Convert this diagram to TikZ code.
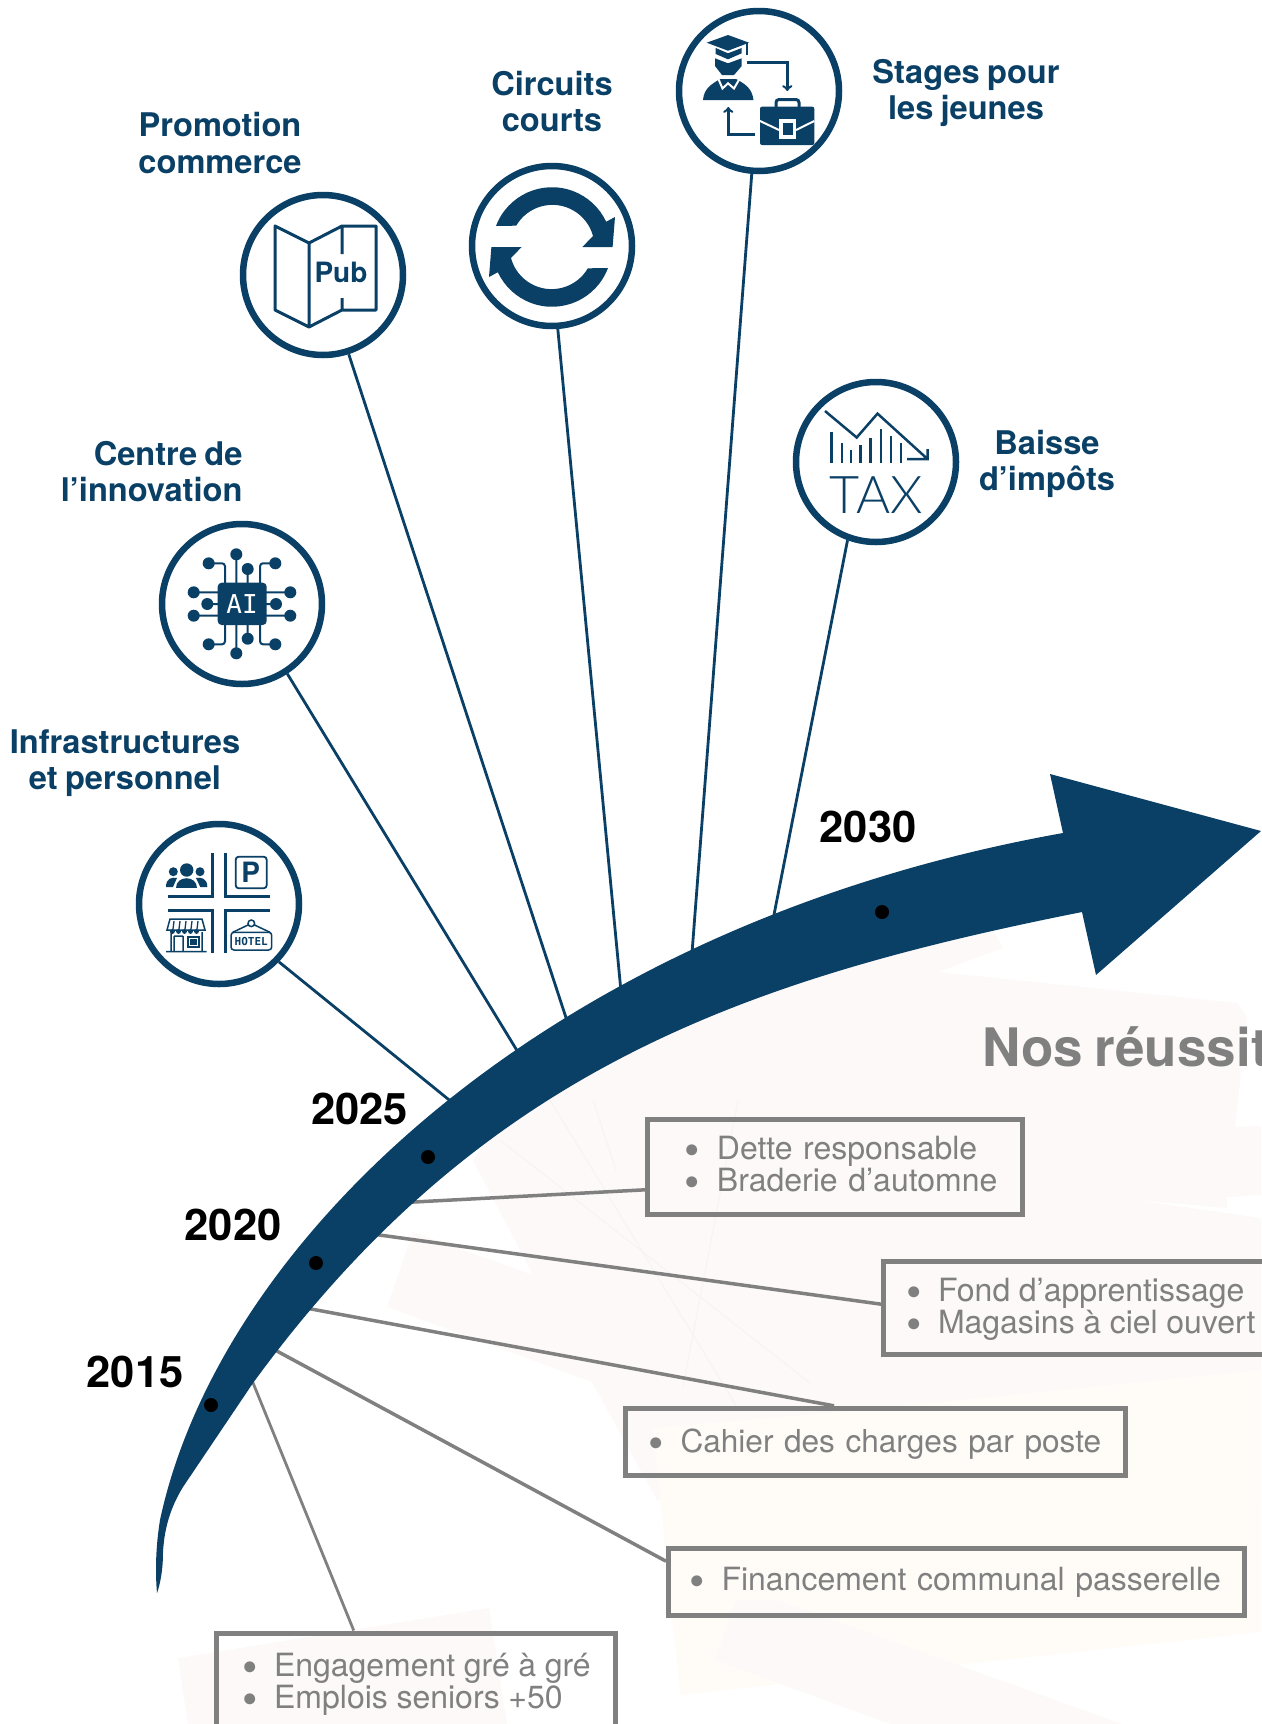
\documentclass[tikz,border=0pt]{standalone}
\usepackage{fontspec}
\setmainfont[WordSpace=0.8]{TeX Gyre Heros}
\newfontfamily\monofam{DejaVu Sans Mono}
\newfontfamily\thinfam{Lato Light}
\definecolor{navy}{HTML}{0A3F66}
\definecolor{boxgray}{HTML}{808080}
\definecolor{palepink}{HTML}{FCF9F8}
\definecolor{paleyellow}{HTML}{FFFCF8}
\definecolor{paleline}{HTML}{F7F5F4}
\newcommand{\bul}[1]{\hspace*{#1pt}\makebox[32pt][l]{\raisebox{-6pt}{\fontsize{44}{32}\selectfont\textbullet}}}
\tikzset{
  iconring/.style={circle,draw=navy,line width=6.5pt,minimum size=160pt,inner sep=0pt},
  themelabel/.style={text=navy,align=center,font=\bfseries\fontsize{32.6}{36}\selectfont},
  yearlabel/.style={font=\bfseries\fontsize{43.5}{43.5}\selectfont},
  yeardot/.style={circle,fill=black,minimum size=14pt,inner sep=0pt},
  navyline/.style={draw=navy,line width=2.8pt},
  grayline/.style={draw=boxgray,line width=3.5pt},
  resultbox/.style={draw=boxgray,line width=5pt,text=boxgray,anchor=north west,align=left,inner ysep=0pt,inner xsep=2pt,font=\fontsize{32}{32}\selectfont},
  icontext/.style={text=navy,inner sep=0pt}
}
\begin{document}
\begin{tikzpicture}[x=1pt,y=-1pt]
\useasboundingbox (0,0) rectangle (1261,1724);
\fill[palepink] (473,1160)--(500,1120)--(760,960)--(985,890)--(993,930)--(1003,948)--(938,972)--(1237,1003)--(1247,1017)--(1235,1127)--(1261,1126)--(1261,1195)--(1227,1197)--(1227,1208)--(1135,1200)--(1261,1218)--(1261,1500)--(657,1500)--(592,1382)--(387,1307)--(413,1232)--(533,1275)--cycle;
\fill[paleyellow] (653,1428)--(860,1410)--(1261,1370)--(1261,1632)--(680,1695)--cycle;
\fill[palepink] (736,1600)--(715,1660)--(890,1724)--(1122,1724)--(778,1600)--cycle;
\fill[palepink] (178,1658)--(489,1608)--(507,1724)--(188,1724)--cycle;
\draw[paleline,line width=1.2pt] (550,1100)--(737,1407) (500,1140)--(810,1383) (593,1100)--(616,1170) (738,1100)--(683,1387);

\node[iconring] (infra) at (219,904) {};
\node[iconring] (ai) at (242,604) {};
\node[iconring] (pub) at (323,275) {};
\node[iconring] (circuits) at (552,246) {};
\node[iconring] (stages) at (759,91) {};
\node[iconring] (tax) at (876,462) {};

\node[themelabel] (infralabel) at (125,763) {Infrastructures\\et personnel};
\node[themelabel,align=right,anchor=east] (ailabel) at (246,472) {Centre de\\l’innovation};
\node[themelabel] (publabel) at (220,143) {Promotion\\commerce};
\node[themelabel] (circuitslabel) at (552,102) {Circuits\\courts};
\node[themelabel] (stageslabel) at (966,93) {Stages pour\\les jeunes};
\node[themelabel] (taxlabel) at (1047,464) {Baisse\\d’impôts};

\coordinate (infraend) at (464,1112);
\coordinate (aiend) at (524,1062);
\coordinate (pubend) at (572,1036);
\coordinate (circuitsend) at (622,1002);
\coordinate (stagesend) at (691,966);
\coordinate (taxend) at (771,930);
\draw[navyline] (infra.316)--(infraend);
\draw[navyline] (ai.303)--(aiend);
\draw[navyline] (pub.288.5)--(pubend);
\draw[navyline] (circuits.274)--(circuitsend);
\draw[navyline] (stages.265)--(stagesend);
\draw[navyline] (tax.250)--(taxend);

\node[resultbox,text width=370.5pt,minimum height=95pt] (dette) at (645,1116.5) {\bul{35.4}Dette responsable\\\bul{35.4}Braderie d’automne};
\node[resultbox,text width=402.5pt,minimum height=93.5pt,text height=27pt,text depth=39pt] (fond) at (881,1258.5) {\spaceskip=8.6pt \bul{20.5}Fond d’apprentissage\\\bul{20.5}Magasins à ciel ouvert};
\node[resultbox,text width=495.5pt,minimum height=66.7pt,text height=29pt,text depth=7pt,font=\fontsize{31.6}{32}\selectfont] (cahier) at (623,1405.8) {\bul{21}Cahier des charges par poste};
\node[resultbox,text width=572pt,minimum height=67pt,text height=24pt,text depth=7pt] (finance) at (666,1545.5) {\bul{19}Financement communal passerelle};
\node[resultbox,text width=395pt,minimum height=95pt,text height=30pt,text depth=39pt] (engage) at (213.5,1630.5) {\spaceskip=8.6pt \bul{24}Engagement gré à gré\\\bul{24}Emplois seniors +50};
\node[text=boxgray,anchor=base west,inner sep=0pt,font=\bfseries\fontsize{53}{53}\selectfont] (reussit) at (982,1066) {Nos réussit};

\coordinate (detteend) at (395,1203);
\coordinate (fondend) at (365,1233);
\coordinate (cahierend) at (295,1306);
\coordinate (financeend) at (262,1343);
\coordinate (engageend) at (247,1368);
\draw[grayline] (dette.187.8)--(detteend);
\draw[grayline] (fond.179.1)--(fondend);
\draw[grayline] (cahier.139.5)--(cahierend);
\draw[grayline] (finance.176.8)--(financeend);
\draw[draw=boxgray,line width=2.8pt] (engage.141.3)--(engageend);

\fill[navy] (157,1593) .. controls (155,1570) and (156,1545) .. (160,1520) .. controls (220,1240) and (548,925) .. (1063,833)--(1050,774)--(1261,831)--(1096,975)--(1082,912) .. controls (740,980) and (480,1072) .. (253,1383)--(183,1487) .. controls (170,1508) and (164,1530) .. (163,1553) .. controls (163,1570) and (160,1585) .. (157,1593)--cycle;

\node[yeardot] (dot2015) at (211,1405) {};
\node[yeardot] (dot2020) at (316,1263) {};
\node[yeardot] (dot2025) at (428,1157) {};
\node[yeardot] (dot2030) at (882,912) {};
\node[yearlabel] (year2015) at (135,1372) {2015};
\node[yearlabel] (year2020) at (233,1225) {2020};
\node[yearlabel] (year2025) at (359.5,1109) {2025};
\node[yearlabel] (year2030) at (868,827) {2030};

\draw[navy,line width=3pt,line join=round] (275,226)--(309,243)--(342,226)--(376,226)--(376,310)--(342,310)--(309,327)--(275,310)--cycle (309,243)--(309,327) (342,226)--(342,254) (342,298)--(342,310);
\node[icontext,font=\bfseries\fontsize{28}{28}\selectfont] (pubtext) at (341,272) {Pub};

\foreach \a in {0,180}{
\fill[navy,rotate around={\a:(552,247)}] (496,226) arc[start angle=159.4,end angle=25,radius=59.8pt]--(615,217)--(612.6,247)--(582.4,247)--(593,236) arc[start angle=15,end angle=149.7,radius=42pt]--cycle;
}

\fill[navy] (706.7,42.7)--(728,35)--(749,42.7)--(728,50.7)--cycle;
\draw[navy,line width=2pt] (746.5,43)--(746.5,55);
\fill[navy] (715.7,48)--(728,53.3)--(741.7,48)--(741.7,53.3)--(728,59.3)--(715.7,54)--cycle;
\fill[navy] (715,58.3)--(728,63.3)--(741.7,58.3)--(741.7,66)--(734,75)--(722,75)--(715,66)--cycle;
\fill[navy] (703,100) .. controls (704,88) and (712,84) .. (720,79)--(736,79) .. controls (745,84) and (752,88) .. (753.5,100)--cycle;
\draw[white,line width=2pt] (718,78)--(722.5,88.5)--(728,83.3)--(734,88.5)--(740,78);
\draw[navy,line width=2.5pt,-to] (746.7,62.3)--(787.3,62.3)--(787.3,91);
\draw[navy,line width=2.5pt,-to] (755,134.3)--(728.3,134.3)--(728.3,107);
\draw[navy,line width=3pt,rounded corners=3pt] (776,113)--(776,99.5)--(799,99.5)--(799,113);
\fill[navy,rounded corners=2pt] (760,106.7) rectangle (814.3,145);
\draw[white,line width=2pt] (760,121)--(779,130) (796,130)--(814.3,121);
\fill[white] (779,119) rectangle (796,139);
\fill[navy] (782.5,123) rectangle (792.5,135);

\draw[navy,line width=2.5pt] (825,411)--(856.7,437.5)--(877.5,413.6)--(927.5,459) (907,459)--(927.5,459)--(927.5,449);
\foreach \bx/\by in {831.5/432,842/443,851/450,860.5/445,870.5/437.5,881/428.5,891/436,901/443}{
\draw[navy,line width=2.2pt] (\bx,463)--(\bx,\by);
}
\node[icontext,font=\thinfam\fontsize{52}{52}\selectfont] (taxtext) at (876,495) {TAX};

\fill[navy,rounded corners=4pt] (217.7,582.7) rectangle (266.7,625);
\node[text=white,inner sep=0pt,font=\monofam\fontsize{26}{26}\selectfont] (aitext) at (242,604) {AI};
\draw[navy,line width=2pt,rounded corners=3pt] (208.7,563.3)--(225,563.3)--(225,583) (236.3,554.3)--(236.3,583) (247.7,569)--(247.7,583) (275.3,563.3)--(260,563.3)--(260,583)
  (193.7,592.3)--(218,592.3) (207.3,604)--(218,604) (193.7,615.7)--(218,615.7) (290.3,592.3)--(266,592.3) (276,604)--(266,604) (290.3,615.7)--(266,615.7)
  (208.7,644.3)--(225,644.3)--(225,625) (236.3,653.3)--(236.3,625) (247.7,638.7)--(247.7,625) (275.3,644.3)--(260,644.3)--(260,625);
\foreach \dx/\dy in {208.7/563.3,236.3/554.3,247.7/569,275.3/563.3,193.7/592.3,207.3/604,193.7/615.7,290.3/592.3,276/604,290.3/615.7,208.7/644.3,236.3/653.3,247.7/638.7,275.3/644.3}{
\fill[navy] (\dx,\dy) circle [radius=6pt];
}

\draw[navy,line width=3pt] (212.7,853.3)--(212.7,896.7)--(168.3,896.7) (225.7,853.3)--(225.7,896.7)--(270,896.7) (168.3,910)--(212.7,910)--(212.7,953.3) (270,910)--(225.7,910)--(225.7,953.3);
\fill[navy] (186.7,870) circle [radius=6.7pt] (173.3,871.7) circle [radius=4.5pt] (200,871.7) circle [radius=4.5pt];
\fill[navy] (176,888.3) .. controls (176,875) and (197.3,875) .. (197.3,888.3)--cycle;
\fill[navy] (166,887) .. controls (166,878) and (172,877) .. (177,878)--(173,887)--cycle (207.3,887) .. controls (207.3,878) and (201,877) .. (196,878)--(200.3,887)--cycle;
\draw[navy,line width=1.8pt,rounded corners=3pt] (235.7,856.7) rectangle (266.7,888.3);
\node[icontext,font=\bfseries\fontsize{28}{28}\selectfont] (ptext) at (250.7,872.7) {P};
\draw[navy,line width=1.5pt] (170,919)--(202,919)--(205,930)--(167,930)--cycle (171,932)--(171,951) (202,932)--(202,951) (166,951.7)--(206.7,951.7) (174,936)--(174,951) (183,936)--(183,951) (174,936)--(183,936);
\foreach \sx in {174,180,186,192,198}{
\draw[navy,line width=1.3pt] (\sx,921)--(\sx-1,929);
\fill[navy] (\sx-1.5,931.5) circle [radius=2.4pt];
}
\draw[navy,line width=1.3pt] (188,937) rectangle (199,947);
\fill[navy] (190,939) rectangle (197,945);
\draw[navy,line width=1.5pt,rounded corners=3pt] (231,932.3) rectangle (271.7,950);
\draw[navy,line width=1.5pt] (232.7,932.3)--(248,925) (254.6,925)--(270,932.3) (251.3,923.3) circle [radius=3.3pt];
\node[icontext,font=\monofam\bfseries\fontsize{11}{11}\selectfont] (hoteltext) at (251.3,941.3) {HOTEL};
\end{tikzpicture}
\end{document}
